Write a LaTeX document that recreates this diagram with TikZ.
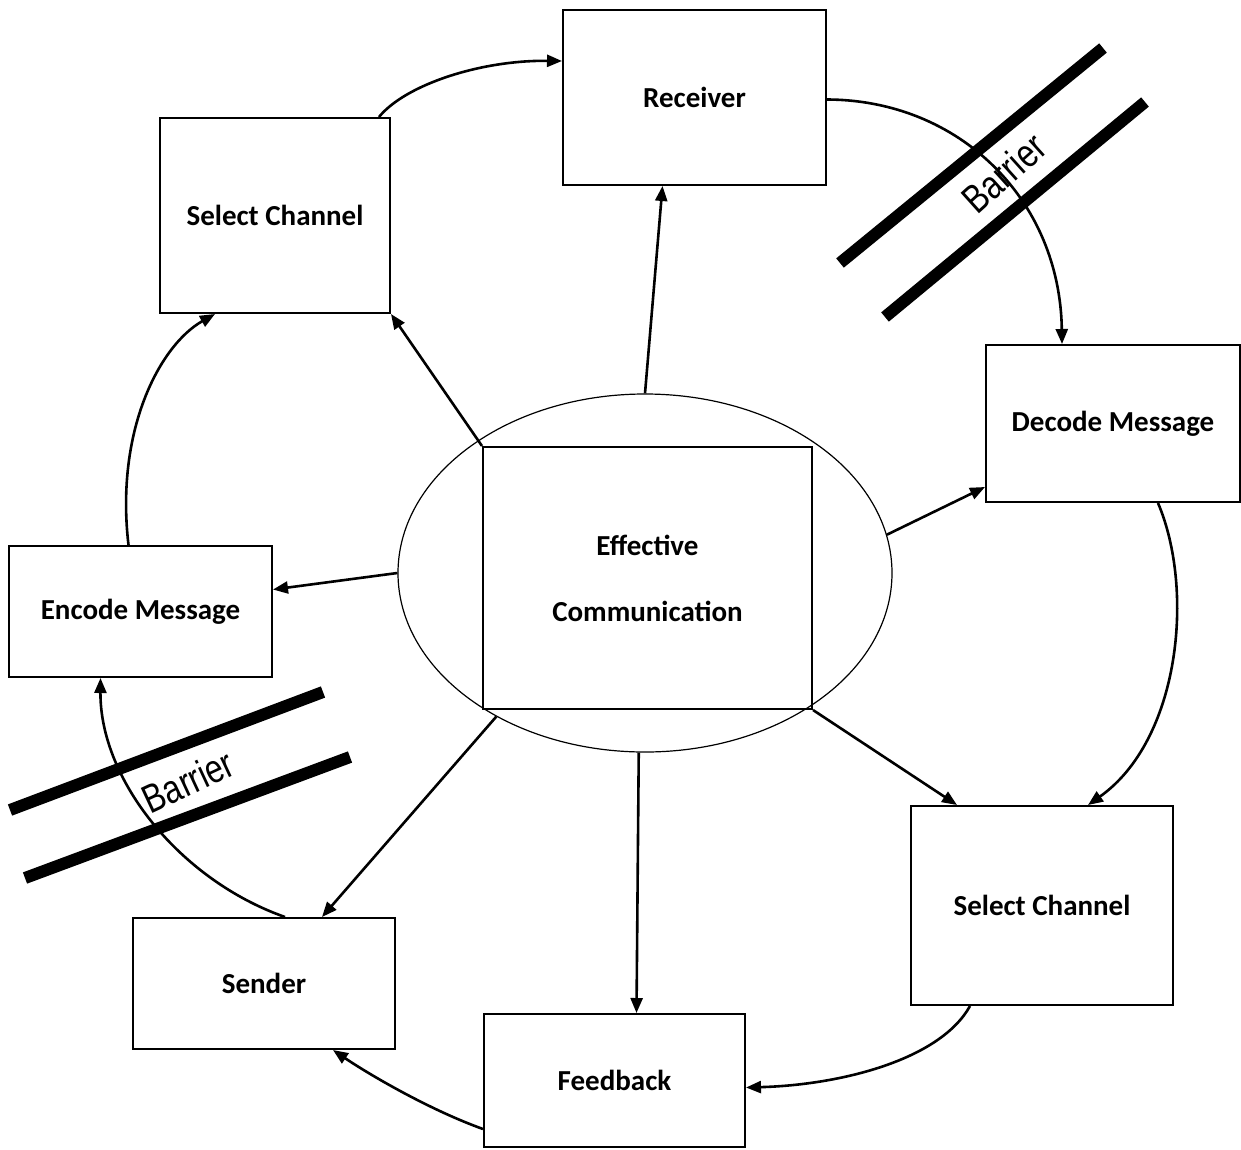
\documentclass[tikz,border=0pt]{standalone}
\usepackage{fontspec}
\setmainfont{Carlito}
\newfontfamily\barfont{Liberation Sans}
\usetikzlibrary{shapes.geometric,arrows.meta}
\begin{document}
\begin{tikzpicture}[x=1pt,y=-1pt,
  box/.style={draw, line width=2pt, rectangle, inner sep=0pt, font=\fontsize{29}{35}\selectfont\bfseries},
  arr/.style={line width=2.6pt, -{Triangle[length=15pt,width=12pt]}},
  bar/.style={line width=12pt},
  bartext/.style={font=\barfont\fontsize{40}{40}\selectfont, xscale=.8, inner sep=0pt}]
\useasboundingbox[fill=white] (0,0) rectangle (1241,1149);
\node[draw, ellipse, line width=1.2pt, minimum width=494pt, minimum height=358pt] (ell) at (645,573){};
\node[box, minimum width=329pt, minimum height=262pt, align=center] (core) at (647.5,578){Effective\\[31pt]Communication};
\node[box, minimum width=263pt, minimum height=175pt] (rcv) at (694.5,97.5){Receiver};
\node[box, minimum width=230pt, minimum height=195pt] (selA) at (275,215.5){Select Channel};
\node[box, minimum width=254pt, minimum height=157pt] (dec) at (1113,423.5){Decode Message};
\node[box, minimum width=263pt, minimum height=131pt] (enc) at (140.5,611.5){Encode Message};
\node[box, minimum width=262pt, minimum height=199pt] (selB) at (1042,905.5){Select Channel};
\node[box, minimum width=262pt, minimum height=131pt] (snd) at (264,983.5){Sender};
\node[box, minimum width=261pt, minimum height=133pt] (fb) at (614.5,1080.5){Feedback};
\draw[arr] (core.north west) -- (selA.south east);
\draw[arr] (ell.north) -- ([xshift=-32pt]rcv.south);
\draw[arr] (ell.9) -- ([yshift=16pt]dec.south west);
\draw[arr] (ell.west) -- ([yshift=22pt]enc.east);
\draw[arr] (core.south east) -- ([xshift=47pt]selB.north west);
\draw[arr] (ell.268) -- ([xshift=22pt]fb.north);
\draw[arr] (ell.224) -- ([xshift=58pt]snd.north);
\draw[arr] ([xshift=-12pt]selA.north east) .. controls (405,85) and (480,60) .. ([yshift=-52pt]rcv.north west);
\draw[arr] ([yshift=-2pt]rcv.east) .. controls (960,100) and (1060,200) .. ([xshift=-51pt]dec.north);
\draw[arr] ([xshift=45pt]dec.south) .. controls (1195,590) and (1180,740) .. ([xshift=46pt]selB.north);
\draw[arr] ([xshift=-72pt]selB.south) .. controls (940,1060) and (840,1085) .. ([yshift=-7pt]fb.east);
\draw[arr] ([yshift=19pt]fb.south west) .. controls (430,1110) and (370,1075) .. ([xshift=69pt]snd.south);
\draw[arr] ([xshift=21pt]snd.north) .. controls (180,880) and (100,780) .. ([xshift=-40pt]enc.south);
\draw[arr] ([xshift=-12pt]enc.north) .. controls (115,430) and (160,345) .. ([xshift=-60pt]selA.south);
\draw[bar] (840,263) -- (1103,48);
\draw[bar] (885,317) -- (1145,102);
\node[rotate=42, bartext] (barA) at (1004,173){Barrier};
\draw[bar] (10,810) -- (323,692);
\draw[bar] (25,878) -- (350,757);
\node[rotate=25, bartext] (barB) at (188,781){Barrier};
\end{tikzpicture}
\end{document}
